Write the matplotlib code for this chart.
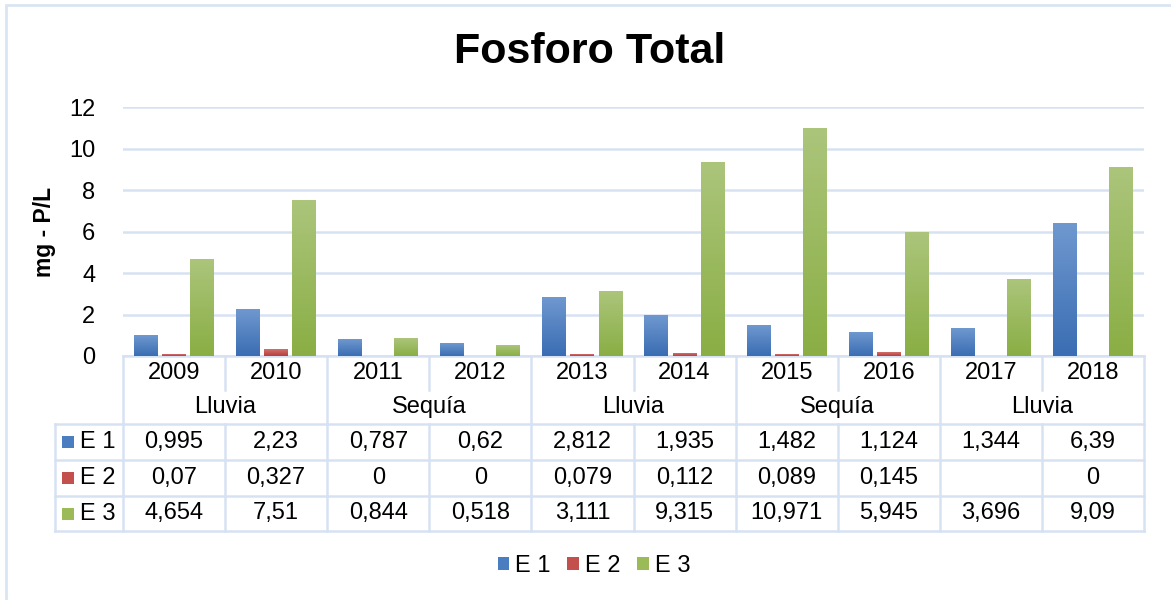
import numpy as np
import matplotlib
matplotlib.use("Agg")
import matplotlib.pyplot as plt
from matplotlib.colors import LinearSegmentedColormap
from matplotlib.patches import Patch, Rectangle
from matplotlib.transforms import blended_transform_factory

# ---- data ----
years = ["2009", "2010", "2011", "2012", "2013", "2014", "2015", "2016", "2017", "2018"]
condicion = ["Lluvia", "Sequía", "Lluvia", "Sequía", "Lluvia"]  # one per pair of years
series_names = ["E 1", "E 2", "E 3"]
e1 = [0.995, 2.23, 0.787, 0.62, 2.812, 1.935, 1.482, 1.124, 1.344, 6.39]
e2 = [0.07, 0.327, 0, 0, 0.079, 0.112, 0.089, 0.145, np.nan, 0]
e3 = [4.654, 7.51, 0.844, 0.518, 3.111, 9.315, 10.971, 5.945, 3.696, 9.09]
yticks = [0, 2, 4, 6, 8, 10, 12]

plt.rcParams["font.family"] = ["Liberation Sans", "DejaVu Sans"]

W, H = 1171, 600
fig = plt.figure(figsize=(W / 100, H / 100), dpi=100)

def fx(px):
    return px / W

def fy(py):
    return 1 - py / H

# plot area
L, R, T, B = 123, 1144, 107, 356
ax = fig.add_axes([fx(L), fy(B), fx(R - L), (B - T) / H])

grads = [("#6F98CF", "#3A6DB3"), ("#D26F6C", "#B73E3B"), ("#ABC57B", "#8AAE44")]
solid = ["#4A7EC0", "#C4504D", "#9BBB59"]
offsets = [-0.275, 0.0, 0.275]
bw = 0.235
xs = np.arange(len(years))

grid_col = "#D6E2F2"
ax.set_axisbelow(True)
ax.yaxis.grid(True, color=grid_col, linewidth=1.8)
for s in ax.spines.values():
    s.set_visible(False)

data = [e1, e2, e3]
for vals, off, (ctop, cbot), sc in zip(data, offsets, grads, solid):
    bars = ax.bar(xs + off, np.nan_to_num(vals), width=bw, color=sc, zorder=2)
    cmap = LinearSegmentedColormap.from_list("g", [cbot, ctop])
    grad = np.linspace(0, 1, 128).reshape(-1, 1)
    for rect in bars:
        h = rect.get_height()
        if h <= 0:
            continue
        x0 = rect.get_x()
        ax.imshow(grad, extent=[x0, x0 + rect.get_width(), 0, h], origin="lower",
                  aspect="auto", cmap=cmap, zorder=3, interpolation="bilinear")

fs = 17
ax.set_xlim(-0.5, len(years) - 0.5)
ax.set_ylim(0, 12)
ax.set_yticks(yticks)
ax.set_yticklabels([str(t) for t in yticks], fontsize=fs)
ax.tick_params(axis="y", length=0, pad=20)
ax.set_xticks([])
ax.set_ylabel("mg - P/L", fontsize=16.5, fontweight="bold", labelpad=20)
ax.yaxis.set_label_coords(fx(56 - L) / fx(R - L), 0.5)

# ---- data table under the plot ----
tr = blended_transform_factory(ax.transData, fig.transFigure)
line_col = "#D6E2F2"
lw = 1.8
y_axis, y_year, y_grp = 356, 390, 424
row_edges = [424, 460, 496, 531]
left_col = -0.5 - (L - 55) / ((R - L) / len(years))
right = len(years) - 0.5

def hline(x0, x1, py):
    ax.plot([x0, x1], [fy(py), fy(py)], transform=tr, color=line_col, lw=lw,
            clip_on=False, solid_capstyle="projecting", zorder=1)

def vline(x, py0, py1):
    ax.plot([x, x], [fy(py0), fy(py1)], transform=tr, color=line_col, lw=lw,
            clip_on=False, solid_capstyle="projecting", zorder=1)

hline(-0.5, right, y_axis)
for py in row_edges:
    hline(left_col, right, py)
vline(left_col, row_edges[0], row_edges[-1])
for k in range(len(years) + 1):
    xb = k - 0.5
    if k % 2 == 0:
        vline(xb, y_axis, row_edges[-1])
    else:
        vline(xb, y_axis, y_year)
        vline(xb, y_grp, row_edges[-1])

for i, yr in enumerate(years):
    ax.text(i, fy(373), yr, transform=tr, ha="center", va="center", fontsize=fs)
for g, name in enumerate(condicion):
    ax.text(2 * g + 0.5, fy(407), name, transform=tr, ha="center", va="center", fontsize=fs)

def fmt(v):
    if v is None or (isinstance(v, float) and np.isnan(v)):
        return ""
    return f"{v:g}".replace(".", ",")

for r, (vals, name, sc) in enumerate(zip(data, series_names, solid)):
    yc = (row_edges[r] + row_edges[r + 1]) / 2
    fig.patches.append(Rectangle((fx(62), fy(yc + 6)), fx(12), 12 / H,
                                 transform=fig.transFigure, facecolor=sc, edgecolor="none"))
    fig.text(fx(80), fy(yc), name, ha="left", va="center", fontsize=fs)
    for i, v in enumerate(vals):
        ax.text(i, fy(yc), fmt(v), transform=tr, ha="center", va="center", fontsize=fs)

# ---- legend ----
handles = [Patch(facecolor=c, edgecolor="none") for c in solid]
fig.legend(handles, series_names, loc="center", bbox_to_anchor=(fx(594), fy(566)),
           ncol=3, frameon=False, fontsize=fs, handlelength=0.5, handleheight=0.5,
           handletextpad=0.25, columnspacing=0.7)

# ---- title and outer frame ----
fig.text(fx(590), fy(52), "Fosforo Total", ha="center", va="center",
         fontsize=31, fontweight="bold")
fig.patches.append(Rectangle((fx(6), fy(H + 20)), fx(W + 20), (H + 20 - 5) / H,
                             transform=fig.transFigure, facecolor="none",
                             edgecolor="#DAE5F3", lw=2))

fig.savefig("out.png", dpi=100)
